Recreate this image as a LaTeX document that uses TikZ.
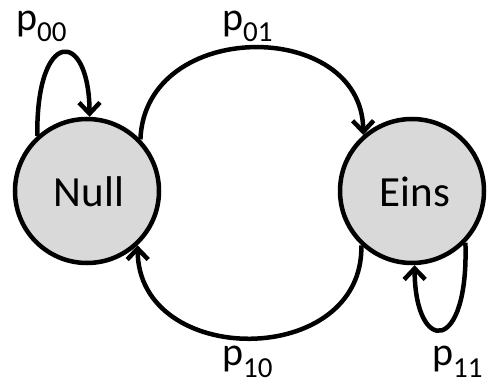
\documentclass[tikz,border=0pt]{standalone}
\usepackage{fontspec}
\setmainfont{Carlito}
\usetikzlibrary{arrows.meta}
\definecolor{stategray}{HTML}{D9D9D9}
\newcommand\plab[1]{{\fontsize{40}{40}\selectfont p}\raisebox{-11pt}{\fontsize{29}{29}\selectfont #1}}
\tikzset{
  state/.style={circle, draw=black, fill=stategray, line width=4.5pt, minimum size=144pt, inner sep=0pt},
  conn/.style={line width=4.5pt, -{Straight Barb[length=11pt,width=21pt,line width=4.5pt]}},
  plabel/.style={anchor=base west, inner sep=0pt},
  stext/.style={anchor=base, inner sep=0pt, font=\fontsize{43}{43}\selectfont}
}
\begin{document}
\begin{tikzpicture}[x=1pt,y=-1pt]
\useasboundingbox (0,0) rectangle (488,385);
\node[state] (null) at (87,191) {};
\node[state] (eins) at (412,191) {};
\node[stext] (nulltext) at (89,207) {Null};
\node[stext] (einstext) at (415,207) {Eins};
% top arc Null -> Eins
\draw[conn] (null.44) .. controls (145,18) and (362,18) .. (eins.131);
% bottom arc Eins -> Null
\draw[conn] (eins.227) .. controls (364,369) and (138,369) .. (null.313);
% self loop Null
\draw[conn] (null.132) .. controls (36,28) and (89,28) .. (null.88);
% self loop Eins
\draw[conn] (eins.316) .. controls (469,355) and (415,355) .. (eins.272);
\node[plabel] (l00) at (16,31) {\plab{00}};
\node[plabel] (l01) at (222,31) {\plab{01}};
\node[plabel] (l10) at (222,366) {\plab{10}};
\node[plabel] (l11) at (432,366) {\plab{11}};
\end{tikzpicture}
\end{document}
